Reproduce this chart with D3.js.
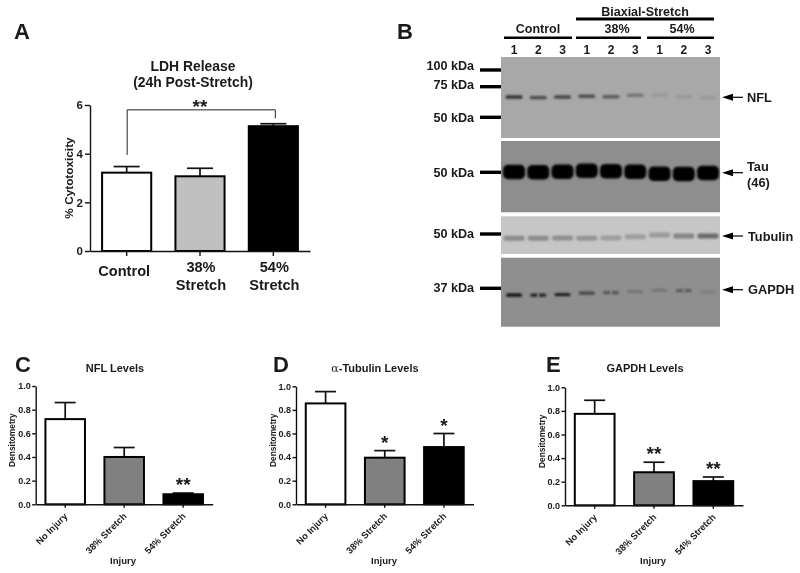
<!DOCTYPE html>
<html>
<head>
<meta charset="utf-8">
<script src="https://cdn.jsdelivr.net/npm/d3@7"></script>
<style>
html, body { margin: 0; background: #fff; }
svg { display: block; filter: blur(0.45px); }
text { font-family: "Liberation Sans", Arial, sans-serif; font-weight: bold; fill: #1a1a1a; }
</style>
</head>
<body>
<svg id="fig" width="800" height="573"></svg>
<script>
// panel A
var ldhGroups = ["Control", "38% Stretch", "54% Stretch"];
var ldhMeans = [3.22, 3.07, 5.13];
var ldhTops = [3.47, 3.40, 5.23];
var ldhTicks = [0, 2, 4, 6];
// panels C, D, E
var injuryGroups = ["No Injury", "38% Stretch", "54% Stretch"];
var densTicks = [0, 0.2, 0.4, 0.6, 0.8, 1.0];
var nflMeans = [0.72, 0.40, 0.085];
var nflTops = [0.86, 0.48, 0.095];
var nflStars = ["", "", "**"];
var tubMeans = [0.855, 0.395, 0.485];
var tubTops = [0.955, 0.455, 0.60];
var tubStars = ["", "*", "*"];
var gapdhMeans = [0.775, 0.28, 0.205];
var gapdhTops = [0.89, 0.365, 0.24];
var gapdhStars = ["", "**", "**"];
// panel B, 9 lanes per blot: band darkness and how far the band ran down the gel
var laneLabels = ["1", "2", "3", "1", "2", "3", "1", "2", "3"];
var nflBlot = [0.85, 0.7, 0.7, 0.65, 0.55, 0.35, 0.1, 0.1, 0.12];
var nflRf = [0.494, 0.502, 0.494, 0.485, 0.49, 0.473, 0.469, 0.49, 0.502];
var tauBlot = [1, 1, 1, 1, 1, 1, 1, 1, 1];
var tauRf = [0.435, 0.439, 0.431, 0.417, 0.425, 0.431, 0.459, 0.463, 0.449];
var tubBlot = [0.38, 0.38, 0.35, 0.32, 0.26, 0.26, 0.28, 0.42, 0.6];
var tubRf = [0.584, 0.584, 0.576, 0.584, 0.576, 0.541, 0.496, 0.523, 0.523];
var gapdhBlot = [1, 0.85, 0.85, 0.55, 0.45, 0.2, 0.2, 0.4, 0.12];
var gapdhRf = [0.541, 0.541, 0.536, 0.512, 0.507, 0.493, 0.472, 0.478, 0.497];
var gapdhDoublets = [1, 4, 7]; // lanes where the band looks split in two

var svg = d3.select("#fig");

svg.append("defs").append("filter").attr("id", "soft")
    .attr("x", "-30%").attr("y", "-100%").attr("width", "160%").attr("height", "300%")
    .append("feGaussianBlur").attr("stdDeviation", 0.9);

function letter(s, x, y) {
    svg.append("text").attr("x", x).attr("y", y).attr("font-size", 22).text(s);
}

// bar chart with error bars, used for all four graphs
function barChart(o) {
    var g = svg.append("g");
    var x = d3.scaleBand().domain(o.groups).range(o.xr).paddingInner(0.33).paddingOuter(0.165);
    var y = d3.scaleLinear().domain([0, o.ymax]).range(o.yr);

    var rows = o.groups.map(function(c, i) {
        return { c: c, v: o.means[i], t: o.tops[i], s: o.stars ? o.stars[i] : "", fill: o.fills[i] };
    });

    // error bars first, the bar outline covers the lower end
    g.selectAll(".stem").data(rows).enter().append("line")
        .attr("x1", function(d) { return x(d.c) + x.bandwidth() / 2; })
        .attr("x2", function(d) { return x(d.c) + x.bandwidth() / 2; })
        .attr("y1", function(d) { return y(d.v); })
        .attr("y2", function(d) { return y(d.t); })
        .attr("stroke", "#111").attr("stroke-width", 1.7);
    g.selectAll(".cap").data(rows).enter().append("line")
        .attr("x1", function(d) { return x(d.c) + x.bandwidth() / 2 - o.cap; })
        .attr("x2", function(d) { return x(d.c) + x.bandwidth() / 2 + o.cap; })
        .attr("y1", function(d) { return y(d.t); })
        .attr("y2", function(d) { return y(d.t); })
        .attr("stroke", "#111").attr("stroke-width", 1.7);

    g.selectAll("rect").data(rows).enter().append("rect")
        .attr("x", function(d) { return x(d.c); })
        .attr("y", function(d) { return y(d.v); })
        .attr("width", x.bandwidth())
        .attr("height", function(d) { return y(0) - y(d.v); })
        .attr("fill", function(d) { return d.fill; })
        .attr("stroke", "#000").attr("stroke-width", 2);

    var ay = g.append("g").attr("transform", "translate(" + o.xr[0] + ",0)")
        .call(d3.axisLeft(y).tickValues(o.ticks).tickFormat(o.fmt).tickSize(o.tick).tickPadding(o.pad).tickSizeOuter(0));
    var ax = g.append("g").attr("transform", "translate(0," + o.yr[0] + ")")
        .call(d3.axisBottom(x).tickSize(o.tick).tickSizeOuter(0).tickFormat(""));
    g.selectAll(".domain, .tick line").attr("stroke", "#111").attr("stroke-width", 1.4);
    ay.selectAll("text").attr("font-size", o.tickFont).attr("fill", "#1a1a1a")
        .style("font-family", "'Liberation Sans'").style("font-weight", "bold");

    // stars sit a fixed gap over the error bar
    g.selectAll(".star").data(rows).enter().append("text")
        .attr("text-anchor", "middle")
        .attr("x", function(d) { return x(d.c) + x.bandwidth() / 2; })
        .attr("y", function(d) { return y(d.t) - 2; })
        .attr("font-size", 19)
        .text(function(d) { return d.s; });

    return { g: g, x: x, y: y, ax: ax };
}

// A
letter("A", 14, 39);
svg.append("text").attr("x", 193).attr("y", 71).attr("text-anchor", "middle").attr("font-size", 13.9).text("LDH Release");
svg.append("text").attr("x", 193).attr("y", 87).attr("text-anchor", "middle").attr("font-size", 13.9).text("(24h Post-Stretch)");
var a = barChart({
    groups: ldhGroups, means: ldhMeans, tops: ldhTops, ymax: 6, ticks: ldhTicks,
    fmt: d3.format("d"), xr: [90, 310], yr: [251, 105], tick: 5, pad: 2,
    cap: 13, tickFont: 11.5, fills: ["#fff", "#c0c0c0", "#000"]
});
a.g.append("text").attr("text-anchor", "middle")
    .attr("transform", "translate(72.5,178) rotate(-90)").attr("font-size", 11.8).text("% Cytotoxicity");
// category names under the bars, split on two lines
ldhGroups.forEach(function(c, i) {
    var parts = c.split(" ");
    var cx = a.x(c) + a.x.bandwidth() / 2 + (i == 0 ? -2.5 : 1);
    var t = a.g.append("text").attr("text-anchor", "middle").attr("font-size", 14.6);
    parts.forEach(function(p, j) {
        t.append("tspan").attr("x", cx)
            .attr("y", parts.length == 1 ? 276 : 272 + j * 18)
            .text(p);
    });
});
// significance bracket
var bracket = d3.line()
    .x(function(d) { return a.x(d[0]) + a.x.bandwidth() / 2 + d[2]; })
    .y(function(d) { return a.y(d[1]); });
a.g.append("path")
    .attr("d", bracket([["Control", 3.95, 0.5], ["Control", 5.8, 0.5], ["54% Stretch", 5.8, 2], ["54% Stretch", 5.45, 2]]))
    .attr("fill", "none").attr("stroke", "#222").attr("stroke-width", 1);
a.g.append("text").attr("x", 200).attr("y", 113).attr("text-anchor", "middle").attr("font-size", 19).text("**");

// C, D, E
function densChart(o) {
    var c = barChart({
        groups: injuryGroups, means: o.means, tops: o.tops, stars: o.stars, ymax: 1, ticks: densTicks,
        fmt: d3.format(".1f"), xr: o.xr, yr: o.yr, tick: 3.5, pad: 1.5,
        cap: 10.5, tickFont: 9, fills: ["#fff", "#808080", "#000"]
    });
    c.ax.selectAll(".tick").each(function(d) {
        d3.select(this).append("text")
            .attr("text-anchor", "end")
            .attr("transform", "translate(3,12.5) rotate(-45)")
            .attr("font-size", 9.3).text(d);
    });
    svg.append("text").attr("x", o.titleX).attr("y", 372).attr("text-anchor", "middle").attr("font-size", 11).html(o.title);
    svg.append("text").attr("text-anchor", "middle").attr("font-size", 8.4)
        .attr("transform", "translate(" + (o.xr[0] - 20.5) + "," + ((o.yr[0] + o.yr[1]) / 2 - 5) + ") rotate(-90)")
        .text("Densitometry");
    svg.append("text").attr("x", o.injuryX).attr("y", 564).attr("text-anchor", "middle").attr("font-size", 9.5).text("Injury");
}
letter("C", 15, 372);
densChart({ means: nflMeans, tops: nflTops, stars: nflStars, xr: [35.7, 212.7], yr: [504.3, 386], title: "NFL Levels", titleX: 115, injuryX: 123 });
letter("D", 273, 372);
densChart({ means: tubMeans, tops: tubTops, stars: tubStars, xr: [296, 473.5], yr: [504.3, 386.3],
    title: "<tspan font-family='DejaVu Serif' font-weight='normal'>α</tspan>-Tubulin Levels", titleX: 375, injuryX: 384 });
letter("E", 546, 372);
densChart({ means: gapdhMeans, tops: gapdhTops, stars: gapdhStars, xr: [565, 743], yr: [505.3, 387.3], title: "GAPDH Levels", titleX: 645, injuryX: 653 });

// B
letter("B", 397, 39);
var lane = d3.scalePoint().domain(d3.range(9)).range([514, 708]);

function topBar(x1, x2, y, w) {
    svg.append("line").attr("x1", x1).attr("x2", x2).attr("y1", y).attr("y2", y).attr("stroke", "#000").attr("stroke-width", w);
}
function blotText(s, x, y, size, anchor) {
    svg.append("text").attr("x", x).attr("y", y).attr("font-size", size).attr("text-anchor", anchor || "middle").text(s);
}
blotText("Biaxial-Stretch", 645, 15.5, 12.5);
topBar(576, 714, 19, 3);
blotText("Control", 538, 33, 12.5);
topBar(504, 572, 37.7, 2.5);
blotText("38%", 617, 33, 12.5);
topBar(576, 641, 37.7, 2.5);
blotText("54%", 682, 33, 12.5);
topBar(647, 714, 37.7, 2.5);
laneLabels.forEach(function(s, i) {
    blotText(s, lane(i), 54, 12);
});

function blot(o) {
    var g = svg.append("g");
    var rf = d3.scaleLinear().domain([0, 1]).range([o.top, o.bottom]);
    g.append("rect").attr("x", 501).attr("y", o.top).attr("width", 219).attr("height", o.bottom - o.top).attr("fill", o.bg);
    var ink = d3.scaleLinear().domain([0, 1]).range([o.bg, o.ink]);
    g.selectAll("rect.band").data(o.dark).enter().append("rect")
        .attr("class", "band")
        .attr("x", function(d, i) { return lane(i) - o.w / 2; })
        .attr("y", function(d, i) { return rf(o.rf[i]) - o.h / 2; })
        .attr("width", o.w).attr("height", o.h)
        .attr("rx", o.rx).attr("ry", o.rx)
        .attr("fill", function(d) { return ink(d); })
        .attr("filter", "url(#soft)");
    // background coloured notch in the middle of split bands
    g.selectAll("rect.gap").data(o.split || []).enter().append("rect")
        .attr("class", "gap")
        .attr("x", function(i) { return lane(i) - 1; })
        .attr("y", function(i) { return rf(o.rf[i]) - o.h / 2 - 1.5; })
        .attr("width", 2).attr("height", o.h + 3)
        .attr("fill", o.bg)
        .attr("filter", "url(#soft)");
}
blot({ dark: nflBlot, rf: nflRf, top: 57, bottom: 138, bg: "#a8a8a8", ink: "#1c1c1c", w: 17, h: 3.4, rx: 1.5 });
blot({ dark: tauBlot, rf: tauRf, top: 141, bottom: 212.3, bg: "#8e8e8e", ink: "#050505", w: 22, h: 14.5, rx: 5 });
blot({ dark: tubBlot, rf: tubRf, top: 216.3, bottom: 254, bg: "#c6c6c6", ink: "#2a2a2a", w: 21, h: 5, rx: 2 });
blot({ dark: gapdhBlot, rf: gapdhRf, split: gapdhDoublets, top: 257.7, bottom: 326.7, bg: "#8f8f8f", ink: "#0c0c0c", w: 16, h: 3.2, rx: 1.5 });

// molecular weight markers
function marker(s, y, base) {
    svg.append("line").attr("x1", 480).attr("x2", 501).attr("y1", y).attr("y2", y).attr("stroke", "#000").attr("stroke-width", 3.4);
    blotText(s, 474, base, 12.6, "end");
}
marker("100 kDa", 70, 70);
marker("75 kDa", 86.7, 89);
marker("50 kDa", 117.3, 122);
marker("50 kDa", 172.3, 177);
marker("50 kDa", 234, 238);
marker("37 kDa", 288.3, 292);

// arrows to the protein names
function arrow(y) {
    svg.append("line").attr("x1", 743).attr("x2", 728).attr("y1", y).attr("y2", y).attr("stroke", "#000").attr("stroke-width", 1.2);
    svg.append("path").attr("d", "M722," + y + "L733," + (y - 3.5) + "L733," + (y + 3.5) + "Z").attr("fill", "#000");
}
arrow(97.3);
blotText("NFL", 747, 102, 12.8, "start");
arrow(172.7);
blotText("Tau", 747, 170.7, 12.8, "start");
blotText("(46)", 747, 186.7, 12.8, "start");
arrow(236);
blotText("Tubulin", 748, 241, 12.8, "start");
arrow(289.7);
blotText("GAPDH", 748, 293.7, 12.8, "start");
</script>
</body>
</html>
